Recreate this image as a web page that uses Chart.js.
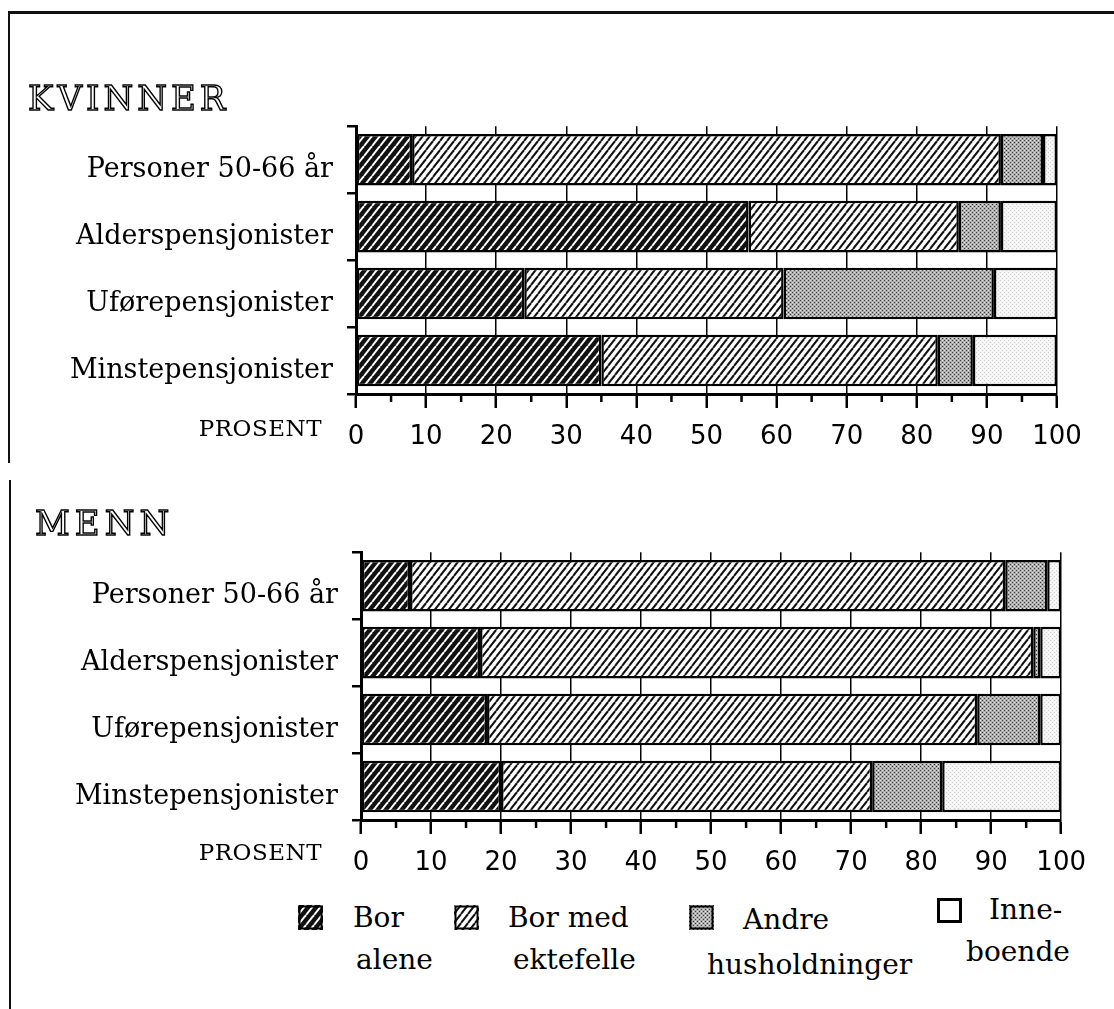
<!DOCTYPE html>
<html>
<head>
<meta charset="utf-8">
<script src="https://cdn.jsdelivr.net/npm/chart.js@4.4.1/dist/chart.umd.min.js"></script>
<style>
  html, body { margin: 0; padding: 0; background: #fff; }
  body { width: 1114px; height: 1009px; position: relative; overflow: hidden; font-family: 'DejaVu Serif', serif; color: #000; }
  .abs { position: absolute; white-space: nowrap; }
  .line { position: absolute; background: #111; }
  .prosent { font-size: 23px; line-height: 22px; width: 200px; text-align: right; letter-spacing: 0.5px; }
  .leg { font-size: 28px; line-height: 28px; }
  .chartbox { position: absolute; left: 20px; width: 1080px; height: 364px; }
  .sw { position: absolute; }
</style>
</head>
<body>

<!-- frame -->
<div class="line" style="left:8px; top:11px; width:1106px; height:3px;"></div>
<div class="line" style="left:8px; top:11px; width:2px; height:452px;"></div>
<div class="line" style="left:9px; top:480px; width:2px; height:529px;"></div>

<canvas class="abs" id="titleWomen" width="280" height="42" style="left:26px; top:78px;"></canvas>
<canvas class="abs" id="titleMen" width="200" height="42" style="left:33px; top:503px;"></canvas>

<div class="chartbox" style="top:96px;"><canvas id="womenChart" width="1080" height="364"></canvas></div>
<div class="chartbox" style="top:522px;"><canvas id="menChart" width="1080" height="364"></canvas></div>

<div class="abs prosent" style="left:122px; top:417px;">PROSENT</div>
<div class="abs prosent" style="left:122px; top:841px;">PROSENT</div>

<!-- legend -->
<canvas class="sw" id="sw0" width="25" height="25" style="left:298px; top:905px;"></canvas>
<div class="abs leg" style="left:353px; top:904px;">Bor</div>
<div class="abs leg" style="left:356px; top:946px;">alene</div>

<canvas class="sw" id="sw1" width="25" height="25" style="left:454px; top:905px;"></canvas>
<div class="abs leg" style="left:508px; top:904px;">Bor med</div>
<div class="abs leg" style="left:513px; top:946px;">ektefelle</div>

<canvas class="sw" id="sw2" width="25" height="25" style="left:689px; top:905px;"></canvas>
<div class="abs leg" style="left:743px; top:906px;">Andre</div>
<div class="abs leg" style="left:707px; top:951px;">husholdninger</div>

<canvas class="sw" id="sw3" width="25" height="25" style="left:937px; top:898px;"></canvas>
<div class="abs leg" style="left:989px; top:896px;">Inne-</div>
<div class="abs leg" style="left:966px; top:938px;">boende</div>

<script>
const categories = ['Personer 50-66 år', 'Alderspensjonister', 'Uførepensjonister', 'Minstepensjonister'];
const seriesNames = ['Bor alene', 'Bor med ektefelle', 'Andre husholdninger', 'Inneboende'];
const xTicks = [0, 10, 20, 30, 40, 50, 60, 70, 80, 90, 100];
const xMinorTicks = [5, 15, 25, 35, 45, 55, 65, 75, 85, 95];

// KVINNER (prosent)
const womenAlene      = [8, 56, 24, 35];
const womenEktefelle  = [84, 30, 37, 48];
const womenAndre      = [6, 6, 30, 5];
const womenInne       = [2, 8, 9, 12];

// MENN (prosent)
const menAlene     = [7, 17, 18, 20];
const menEktefelle = [85, 79, 70, 53];
const menAndre     = [6, 1, 9, 10];
const menInne      = [2, 3, 3, 17];

/* TITLES (outlined letters) */

function drawTitle(id, text, spacing) {
    const g = document.getElementById(id).getContext('2d');
    g.font = '34px "DejaVu Serif"';
    g.textBaseline = 'alphabetic';
    g.lineWidth = 1.4;
    g.strokeStyle = '#000';
    g.fillStyle = '#fff';
    let x = 2;
    for (const ch of text) {
        g.fillText(ch, x, 32);
        g.strokeText(ch, x, 32);
        x += g.measureText(ch).width + spacing;
    }
}
drawTitle('titleWomen', 'KVINNER', 4);
drawTitle('titleMen', 'MENN', 5);

/* PATTERNS */

function hatchTile(bg, fg, lw, w, h) {
    const c = document.createElement('canvas');
    c.width = w; c.height = h;
    const g = c.getContext('2d');
    g.fillStyle = bg;
    g.fillRect(0, 0, w, h);
    g.strokeStyle = fg;
    g.lineWidth = lw;
    [-w, 0, w].forEach(dx => {
        g.beginPath();
        g.moveTo(dx, h);
        g.lineTo(dx + w, 0);
        g.stroke();
    });
    return c;
}

function stippleTile(bg, dark, light) {
    const c = document.createElement('canvas');
    c.width = 4; c.height = 4;
    const g = c.getContext('2d');
    g.fillStyle = bg;
    g.fillRect(0, 0, 4, 4);
    g.fillStyle = dark;
    g.fillRect(0, 0, 1, 1);
    g.fillRect(2, 2, 1, 1);
    g.fillStyle = light;
    g.fillRect(2, 0, 1, 1);
    g.fillRect(0, 2, 1, 1);
    return c;
}

const tiles = [
    hatchTile('#111', '#fff', 2.0, 8, 10),
    hatchTile('#fff', '#111', 2.0, 7, 9),
    stippleTile('#adadad', '#3a3a3a', '#e4e4e4'),
    stippleTile('#f4f4f4', '#d2d2d2', '#fff')
];

const ctxPat = document.createElement('canvas').getContext('2d');
const fills = tiles.map(t => ctxPat.createPattern(t, 'repeat'));

/* LEGEND SWATCHES */

tiles.forEach((t, i) => {
    const sw = document.getElementById('sw' + i).getContext('2d');
    sw.fillStyle = i === 3 ? '#fff' : sw.createPattern(t, 'repeat');
    sw.fillRect(0, 0, 25, 25);
    sw.strokeStyle = '#000';
    sw.lineWidth = i === 3 ? 3 : 2;
    sw.strokeRect(1.5, 1.5, 22, 22);
});

/* MINOR TICKS */

const minorTicks = {
    id: 'minorTicks',
    afterDraw(chart) {
        const xs = chart.scales.x;
        const ctx = chart.ctx;
        ctx.save();
        ctx.strokeStyle = '#000';
        ctx.lineWidth = 2.5;
        xMinorTicks.forEach(v => {
            const px = xs.getPixelForValue(v);
            ctx.beginPath();
            ctx.moveTo(px, xs.top);
            ctx.lineTo(px, xs.top + 8);
            ctx.stroke();
        });
        ctx.restore();
    }
};

function buildChart(canvasId, series, axisWidth, rightPad) {
    new Chart(document.getElementById(canvasId), {
        type: 'bar',
        data: {
            labels: categories,
            datasets: series.map((data, i) => ({
                label: seriesNames[i],
                data: data,
                backgroundColor: fills[i],
                borderColor: '#000',
                borderWidth: 2.5,
                borderSkipped: false,
                barPercentage: 0.77,
                categoryPercentage: 1
            }))
        },
        options: {
            indexAxis: 'y',
            responsive: false,
            animation: false,
            layout: { padding: { top: 6, right: rightPad, left: 0, bottom: 0 } },
            plugins: { legend: { display: false }, tooltip: { enabled: false } },
            scales: {
                x: {
                    stacked: true,
                    min: 0,
                    max: 100,
                    afterBuildTicks: s => { s.ticks = xTicks.map(v => ({ value: v })); },
                    grid: { color: '#000', lineWidth: 1.5, tickLength: 14, tickWidth: 2.5, tickColor: '#000' },
                    border: { color: '#000', width: 3 },
                    ticks: { color: '#000', font: { family: 'DejaVu Sans', size: 26 }, padding: 14, maxRotation: 0, autoSkip: false },
                    afterFit: s => { s.height = 66; }
                },
                y: {
                    stacked: true,
                    grid: { offset: true, drawOnChartArea: false, color: '#000', lineWidth: 2.5, tickLength: 9 },
                    border: { color: '#000', width: 3 },
                    ticks: { color: '#000', font: { family: 'DejaVu Serif', size: 27 }, padding: 14, labelOffset: 10 },
                    afterFit: s => { s.width = axisWidth; }
                }
            }
        },
        plugins: [minorTicks]
    });
}

buildChart('womenChart', [womenAlene, womenEktefelle, womenAndre, womenInne], 336, 43);
buildChart('menChart', [menAlene, menEktefelle, menAndre, menInne], 341, 36);
</script>
</body>
</html>
